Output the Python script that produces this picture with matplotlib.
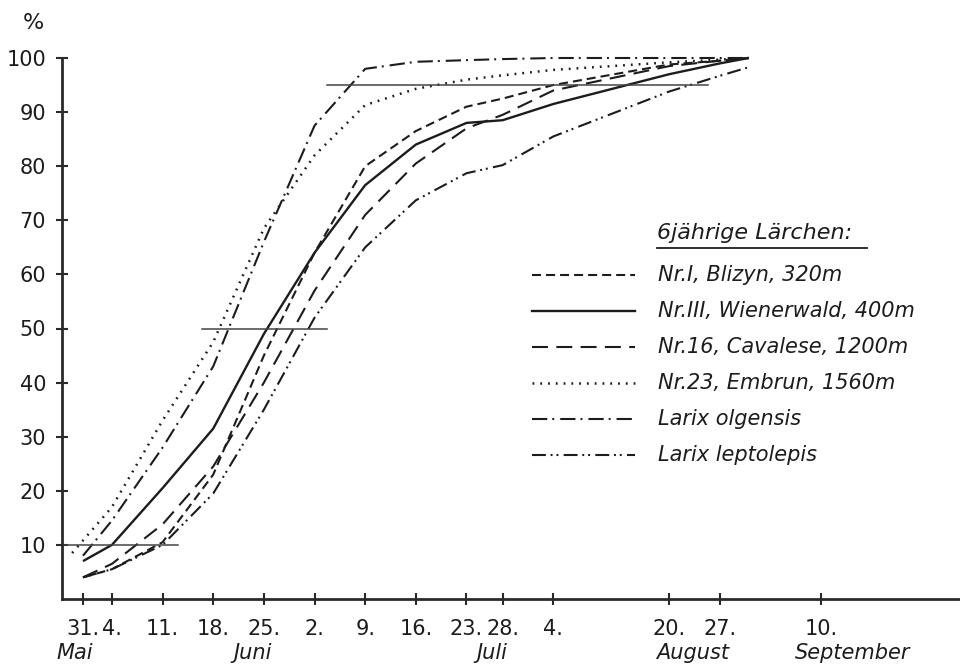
import matplotlib
matplotlib.use("Agg")
import matplotlib.pyplot as plt
from matplotlib.lines import Line2D

plt.rcParams['font.family'] = ['DejaVu Sans']
plt.rcParams['lines.scale_dashes'] = False

# ---- data (days after 31 May) ----
days = [0, 4, 11, 18, 25, 32, 39, 46, 53, 58, 65, 81, 88, 92]
embrun_days = [-1.5, 4, 11, 18, 25, 32, 39, 46, 53, 58, 65, 81, 88, 92]

blizyn      = [4, 5.5, 10.5, 23, 45, 64, 80, 86.5, 91, 92.5, 95, 98.8, 99.5, 100]
wienerwald  = [7, 10, 20.5, 31.5, 49, 64, 76.5, 84, 88, 88.5, 91.5, 97, 99, 100]
cavalese    = [4, 6.5, 13.8, 24.5, 40, 57, 71, 80.5, 87, 89.5, 94, 98.5, 99.5, 100]
embrun      = [8.5, 17, 33, 47.5, 68.5, 82, 91.3, 94.3, 96, 96.8, 97.8, 99.2, 99.7, 100]
olgensis    = [8, 14.5, 28, 43, 66, 87.5, 98, 99.3, 99.6, 99.8, 100, 100, 100, 100]
leptolepis  = [4, 5.5, 10, 19.5, 35, 52, 65, 73.7, 78.7, 80.2, 85.5, 93.8, 96.7, 98.3]

labels = ["Nr.I, Blizyn, 320m", "Nr.III, Wienerwald, 400m", "Nr.16, Cavalese, 1200m",
          "Nr.23, Embrun, 1560m", "Larix olgensis", "Larix leptolepis"]
legend_title = "6jährige Lärchen:"

tick_days = [0, 4, 11, 18, 25, 32, 39, 46, 53, 58, 65, 81, 88, 102]
tick_labels = ["31.", "4.", "11.", "18.", "25.", "2.", "9.", "16.", "23.", "28.", "4.", "20.", "27.", "10."]
month_names = ["Mai", "Juni", "Juli", "August", "September"]
month_days = [-1.1, 23.5, 56.5, 84.2, 106.4]

y_ticks = [10, 20, 30, 40, 50, 60, 70, 80, 90, 100]

# reference lines: (level, start day, end day)
ref_levels = [10, 50, 95]
ref_start = [-2.9, 16.4, 33.7]
ref_end = [13.1, 33.7, 86.4]

# ---- styles ----
INK = '#1c1c1c'
styles = [
    dict(ls=(0, (6.5, 3.6)), lw=1.5),
    dict(ls='-', lw=1.7),
    dict(ls=(0, (11.5, 6.0)), lw=1.5),
    dict(ls=(0, (1.3, 4.3)), lw=1.8),
    dict(ls=(0, (11, 3.6, 1.4, 4.3)), lw=1.5),
    dict(ls=(0, (10, 3.4, 1.4, 2.8, 1.4, 3.8)), lw=1.5),
]
series_x = [days, days, days, embrun_days, days, days]
series_y = [blizyn, wienerwald, cavalese, embrun, olgensis, leptolepis]

W, H = 960, 670
fig = plt.figure(figsize=(W / 100, H / 100), dpi=100)
fig.patch.set_facecolor('white')
ax = fig.add_axes([62 / W, (H - 599) / H, (W - 62) / W, (599 - 58) / H])
ax.set_xlim(-2.9, 121.2)
ax.set_ylim(0, 100)

for xs, ys, st in zip(series_x, series_y, styles):
    ax.plot(xs, ys, color=INK, linestyle=st['ls'], lw=st['lw'], clip_on=False,
            solid_capstyle='butt', dash_capstyle='butt')

for lv, a, b in zip(ref_levels, ref_start, ref_end):
    ax.plot([a, b], [lv, lv], color='#444444', lw=1.1)

for s in ['top', 'right']:
    ax.spines[s].set_visible(False)
for s in ['left', 'bottom']:
    ax.spines[s].set_linewidth(2.0)
    ax.spines[s].set_color('#2a2a2a')

ax.set_yticks(y_ticks)
ax.set_yticklabels([str(v) for v in y_ticks], fontsize=15, color=INK)
ax.set_xticks(tick_days)
ax.set_xticklabels(tick_labels, fontsize=15, color=INK)
ax.tick_params(axis='y', direction='inout', length=9, width=1.5, pad=7, colors='#2a2a2a',
               labelcolor=INK)
ax.tick_params(axis='x', direction='inout', length=9, width=1.5, pad=10, colors='#2a2a2a',
               labelcolor=INK)

for name, d in zip(month_names, month_days):
    ax.text(d, -(653 - 599) / 541, name, transform=ax.get_xaxis_transform(), fontsize=15,
            style='italic', color=INK, ha='center', va='center')

fig.text(33 / W, 1 - 23 / H, "%", fontsize=16, color=INK, ha='center', va='center')

# ---- legend (drawn by hand) ----
fig.text(657 / W, 1 - 233 / H, legend_title, fontsize=16, style='italic', color=INK,
         ha='left', va='center')
fig.add_artist(Line2D([657 / W, 867 / W], [1 - 248 / H, 1 - 248 / H], color=INK, lw=1.3))
rows = [275, 311, 347, 383, 419, 455]
for lab, st, py in zip(labels, styles, rows):
    fig.add_artist(Line2D([532 / W, 635 / W], [1 - py / H, 1 - py / H], color=INK,
                          linestyle=st['ls'], lw=st['lw'], dash_capstyle='butt'))
    fig.text(658 / W, 1 - py / H, lab, fontsize=15, style='italic', color=INK,
             ha='left', va='center')

fig.savefig("out.png", dpi=100, facecolor='white')
